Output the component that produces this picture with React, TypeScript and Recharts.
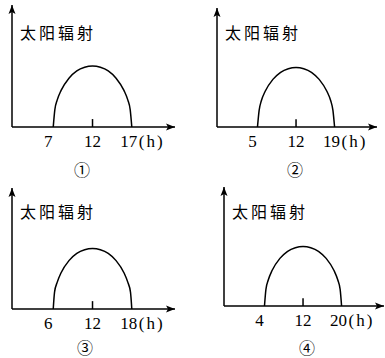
import { LineChart, Line, XAxis, YAxis, ReferenceLine, ReferenceDot } from 'recharts';

// hours of the four sketches (sunrise .. sunset)
const hours1 = [7, 7.2, 7.5, 8, 9, 10, 11, 12, 13, 14, 15, 16, 16.5, 16.8, 17];
const hours2 = [5, 5.3, 5.7, 6.4, 7.8, 9.2, 10.6, 12, 13.4, 14.8, 16.2, 17.6, 18.3, 18.7, 19];
const hours3 = [6, 6.2, 6.6, 7.2, 8.4, 9.6, 10.8, 12, 13.2, 14.4, 15.6, 16.8, 17.4, 17.8, 18];
const hours4 = [4, 4.3, 4.8, 5.6, 7.2, 8.8, 10.4, 12, 13.6, 15.2, 16.8, 18.4, 19.2, 19.7, 20];

// relative solar radiation (same arch in every sketch)
const radiation = [0, 1.4, 2.2, 3.0, 4.0, 4.6, 4.9, 5, 4.9, 4.6, 4.0, 3.0, 2.2, 1.4, 0];

const tickLabels = [
  [7, 12, 17],
  [5, 12, 19],
  [6, 12, 18],
  [4, 12, 20],
];
const captions = ['①', '②', '③', '④'];
const title = '太阳辐射';

const W = 193;
const H = 179;
const AXIS_H = 30;

interface Panel {
  hours: number[];
  ticks: number[];
  caption: string;
  left: number;
  top: number;
  yAxisX: number;
  topY: number;
  axisY: number;
  tipX: number;
  capX: number;
  capY: number;
}

const panels: Panel[] = [
  { hours: hours1, ticks: tickLabels[0], caption: captions[0], left: 0, top: 0, yAxisX: 12, topY: 5, axisY: 127, tipX: 175, capX: 82, capY: 169 },
  { hours: hours2, ticks: tickLabels[1], caption: captions[1], left: 192, top: 0, yAxisX: 25, topY: 8, axisY: 127, tipX: 185, capX: 295, capY: 169 },
  { hours: hours3, ticks: tickLabels[2], caption: captions[2], left: 0, top: 179, yAxisX: 12, topY: 9, axisY: 130, tipX: 175, capX: 85, capY: 347 },
  { hours: hours4, ticks: tickLabels[3], caption: captions[3], left: 192, top: 179, yAxisX: 32, topY: 8, axisY: 127, tipX: 192, capX: 307, capY: 347 },
];

const numFont = '"Liberation Serif", "DejaVu Serif", serif';
const cjkFont = '"Noto Sans CJK SC", sans-serif';

function ArrowRight(props: any) {
  const { cx, cy } = props;
  return <path d={`M${cx},${cy} L${cx - 9},${cy - 3.5} L${cx - 7},${cy} L${cx - 9},${cy + 3.5} Z`} fill="#000" />;
}

function ArrowUp(props: any) {
  const { cx, cy } = props;
  return <path d={`M${cx},${cy} L${cx - 3.5},${cy + 9} L${cx},${cy + 7} L${cx + 3.5},${cy + 9} Z`} fill="#000" />;
}

function SunChart({ p }: { p: Panel }) {
  const rise = p.ticks[0];
  const set = p.ticks[2];
  const span = set - rise;
  const xMin = rise - span * 0.525;
  const xMax = set + span * 0.55;
  const data = p.hours.map((h, i) => ({ h, r: radiation[i] }));

  const renderTick = (props: any) => {
    const { x, y, payload } = props;
    const v = payload.value;
    if (v === set) {
      return (
        <g>
          <text x={x - 3} y={y + 12} textAnchor="middle" fontSize={17} fontFamily={numFont} fill="#000">{v}</text>
          <text x={x + 7} y={y + 12} textAnchor="start" fontSize={17} fontFamily={numFont} letterSpacing={2} fill="#000">(h)</text>
        </g>
      );
    }
    const shift = v === rise ? -5 : 0;
    return (
      <text x={x + shift} y={y + 12} textAnchor="middle" fontSize={17} fontFamily={numFont} fill="#000">{v}</text>
    );
  };

  return (
    <div style={{ position: 'absolute', left: p.left, top: p.top, width: W, height: H }}>
      <LineChart
        width={W}
        height={H}
        data={data}
        margin={{ left: p.yAxisX, right: W - p.tipX, top: p.topY, bottom: H - p.axisY - AXIS_H }}
      >
        <XAxis
          type="number"
          dataKey="h"
          domain={[xMin, xMax]}
          ticks={p.ticks}
          axisLine={false}
          tickLine={false}
          tick={renderTick}
          height={AXIS_H}
          allowDataOverflow
          interval={0}
        />
        <YAxis hide type="number" domain={[0, 10]} />
        <ReferenceLine x={xMin} stroke="#000" strokeWidth={1.5} />
        <ReferenceLine y={0} stroke="#000" strokeWidth={1.5} />
        <ReferenceLine segment={[{ x: 12, y: 0 }, { x: 12, y: 0.65 }]} stroke="#000" strokeWidth={1.5} />
        <ReferenceDot x={xMax} y={0} r={0} ifOverflow="visible" shape={ArrowRight} />
        <ReferenceDot x={xMin} y={10} r={0} ifOverflow="visible" shape={ArrowUp} />
        <Line type="monotone" dataKey="r" stroke="#000" strokeWidth={1.5} dot={false} isAnimationActive={false} />
      </LineChart>
      <div
        style={{
          position: 'absolute',
          left: p.yAxisX + 8,
          top: 24,
          fontFamily: cjkFont,
          fontSize: 16,
          lineHeight: '16px',
          letterSpacing: 3,
          whiteSpace: 'nowrap',
          color: '#000',
        }}
      >
        {title}
      </div>
    </div>
  );
}

export default function App() {
  return (
    <div style={{ position: 'absolute', left: 0, top: 0, width: 385, height: 358, background: '#fff' }}>
      {panels.map((p, i) => (
        <SunChart key={i} p={p} />
      ))}
      {panels.map((p, i) => (
        <div
          key={'c' + i}
          style={{
            position: 'absolute',
            left: p.capX - 14,
            top: p.capY - 9,
            width: 28,
            height: 18,
            lineHeight: '18px',
            textAlign: 'center',
            fontFamily: '"Noto Sans CJK SC", "DejaVu Sans", sans-serif',
            fontSize: 16,
            color: '#000',
          }}
        >
          {p.caption}
        </div>
      ))}
    </div>
  );
}
